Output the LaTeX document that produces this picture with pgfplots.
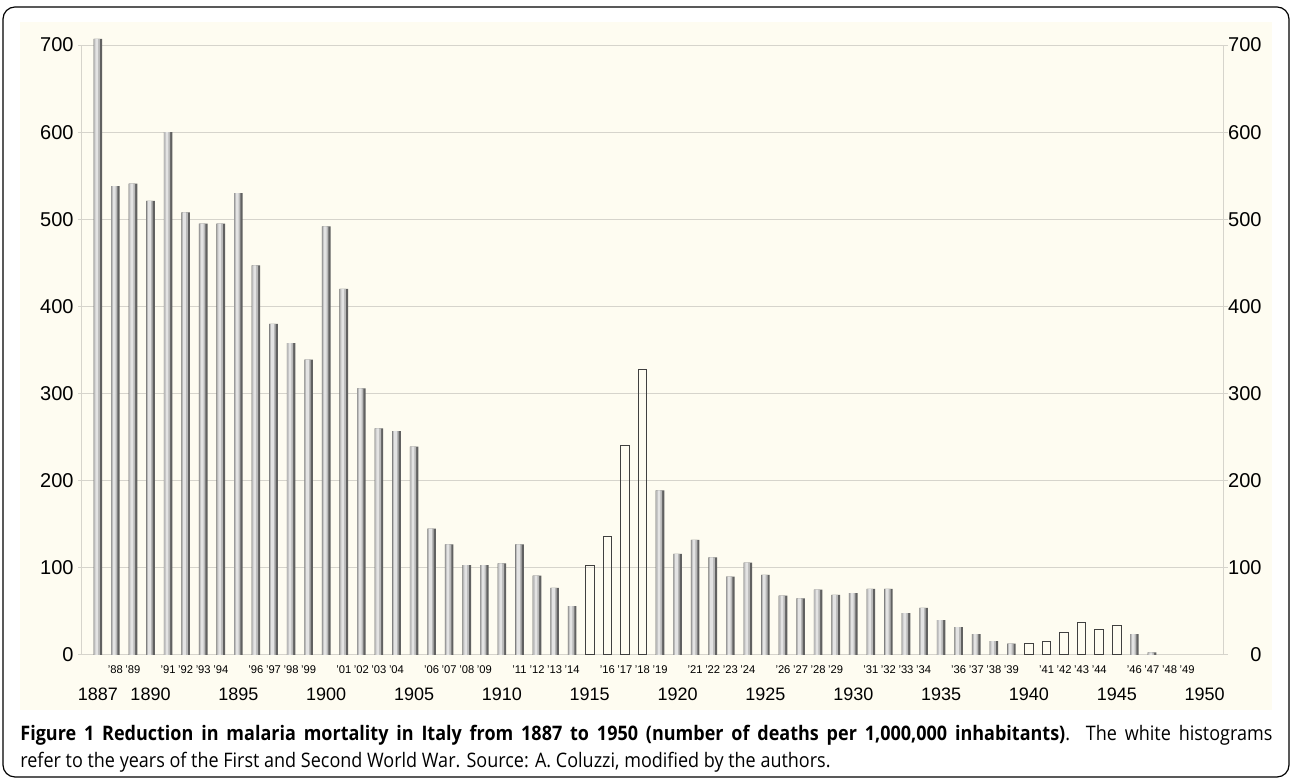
\documentclass[border=0pt]{standalone}
\usepackage{pgfplots}
\usepackage{pgfplotstable}
\pgfplotsset{compat=1.18}
\usepackage{fontspec}
\setmainfont{Liberation Sans}
\newfontfamily\capfont[FakeStretch=0.9]{Open Sans}
\definecolor{paper}{RGB}{254,252,241}
\definecolor{gridc}{RGB}{214,212,204}

% deaths per 1,000,000 inhabitants, ordinary years
\pgfplotstableread{
year deaths
1887 707
1888 538
1889 541
1890 521
1891 600
1892 508
1893 495
1894 495
1895 530
1896 447
1897 380
1898 358
1899 339
1900 492
1901 420
1902 306
1903 260
1904 257
1905 239
1906 145
1907 127
1908 103
1909 103
1910 105
1911 127
1912 91
1913 77
1914 56
1919 189
1920 116
1921 132
1922 112
1923 90
1924 106
1925 92
1926 68
1927 65
1928 75
1929 69
1930 71
1931 76
1932 76
1933 48
1934 54
1935 40
1936 32
1937 24
1938 16
1939 13
1946 24
1947 3
}\peace

% war years (white bars)
\pgfplotstableread{
year deaths
1915 103
1916 136
1917 240
1918 328
1940 13
1941 16
1942 26
1943 37
1944 29
1945 34
}\war

\begin{document}
\begin{tikzpicture}[x=1pt,y=1pt]
\useasboundingbox (0,0) rectangle (646,390);
\fill[paper] (10,35) rectangle (636,379);
\draw[line width=0.6pt, rounded corners=6pt] (1.5,1.5) rectangle (644.5,386.5);

\begin{axis}[
  at={(41pt,62.5pt)}, anchor=south west,
  scale only axis, width=571pt, height=305pt,
  xmin=1886.1, xmax=1951.1, ymin=0, ymax=700,
  clip=false,
  ybar, bar width=4.3pt, bar shift=0pt,
  axis line style={gridc, line width=0.5pt},
  ymajorgrids, grid style={gridc, line width=0.5pt},
  ytick={0,100,200,300,400,500,600,700},
  xtick={1887,1890,1895,1900,1905,1910,1915,1920,1925,1930,1935,1940,1945,1950},
  xticklabels={1887,1890,1895,1900,1905,1910,1915,1920,1925,1930,1935,1940,1945,1950},
  xtick style={draw=none},
  ytick style={gridc, line width=0.5pt},
  tick align=outside, major tick length=2pt,
  /pgf/number format/assume math mode=true,
  yticklabel style={font=\fontsize{10}{12}\selectfont, inner sep=0pt, anchor=east, xshift=-2pt},
  xticklabel style={font=\fontsize{9}{11}\selectfont, anchor=center, yshift=-17.5pt},
]
% gray bars drawn as three layers to give the rounded look
\addplot[draw=none, fill=black!62, bar width=4.3pt]
  table[x=year, y=deaths] {\peace};
\addplot[draw=none, fill=gray!55, bar width=3.0pt, bar shift=-0.45pt]
  table[x=year, y=deaths] {\peace};
\addplot[draw=none, fill=gray!22, bar width=1.4pt, bar shift=-0.55pt]
  table[x=year, y=deaths] {\peace};
\addplot[draw=black!75, line width=0.5pt, fill=none]
  table[x=year, y=deaths] {\war};
\end{axis}

\begin{axis}[
  at={(41pt,62.5pt)}, anchor=south west,
  scale only axis, width=571pt, height=305pt,
  xmin=1886.1, xmax=1951.1, ymin=0, ymax=700,
  axis line style={draw=none},
  tick style={draw=none},
  yticklabel pos=right,
  ytick={0,100,200,300,400,500,600,700},
  /pgf/number format/assume math mode=true,
  yticklabel style={font=\fontsize{10}{12}\selectfont, inner sep=0pt, anchor=east, xshift=19pt},
  xtick={1888,1889,1891,1892,1893,1894,1896,1897,1898,1899,1901,1902,1903,1904,1906,1907,1908,1909,1911,1912,1913,1914,1916,1917,1918,1919,1921,1922,1923,1924,1926,1927,1928,1929,1931,1932,1933,1934,1936,1937,1938,1939,1941,1942,1943,1944,1946,1947,1948,1949},
  xticklabels={'88,'89,'91,'92,'93,'94,'96,'97,'98,'99,'01,'02,'03,'04,'06,'07,'08,'09,'11,'12,'13,'14,'16,'17,'18,'19,'21,'22,'23,'24,'26,'27,'28,'29,'31,'32,'33,'34,'36,'37,'38,'39,'41,'42,'43,'44,'46,'47,'48,'49},
  xticklabel style={font=\fontsize{5.6}{6}\selectfont, inner sep=0pt, anchor=center, yshift=-7.5pt},
]
\end{axis}

\node[anchor=base west, inner sep=0pt] at (10,6) {\parbox[b]{626pt}{\capfont\fontsize{10}{13.5}\selectfont
\textbf{Figure 1 Reduction in malaria mortality in Italy from 1887 to 1950 (number of deaths per 1,000,000 inhabitants)}. The white histograms\linebreak
refer to the years of the First and Second World War. Source: A. Coluzzi, modified by the authors.}};
\end{tikzpicture}
\end{document}
